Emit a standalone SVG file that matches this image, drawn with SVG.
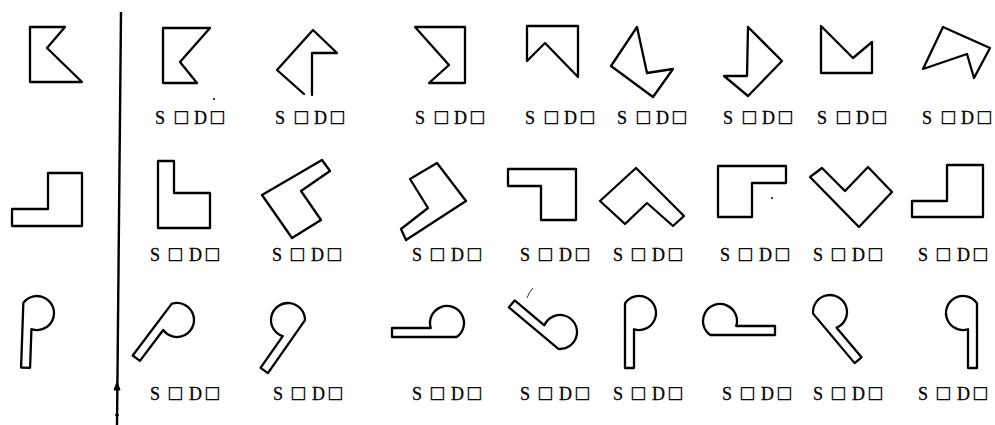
<svg xmlns="http://www.w3.org/2000/svg" width="995" height="425" viewBox="0 0 995 425">
<style>
.f{fill:none;stroke:#000;stroke-width:2.3;stroke-linejoin:round;stroke-linecap:round}
.l{font-family:"Liberation Serif","DejaVu Serif",serif;font-size:18px;fill:#000;stroke:#000;stroke-width:0.3}
.q{font-family:"Liberation Mono","DejaVu Sans Mono",monospace;font-size:21px;stroke-width:0.4}
</style>
<defs>
<path id="P" d="M-14,55 L-14,-9.64 A17,17 0 1 1 -5,16.25 L-5,55 Z"/>
</defs>
<rect width="995" height="425" fill="#fff"/>
<g id="divider" stroke="#000" fill="#000">
<line x1="121" y1="12" x2="117" y2="425" stroke-width="2.4"/>
<polygon points="114,390 117,382 120,390" stroke-width="1"/>
<line x1="115" y1="415" x2="119" y2="415" stroke-width="1.5"/>
</g>
<g id="row1">
<g id="r1-ref"><polygon class="f" points="30,27 65,27 47,48 82,82 30,82"/></g>
<g id="r1-1"><polygon class="f" points="163,28 210,28 180,62 197,83 163,83"/><circle cx="214" cy="99" r="1" fill="#000"/><text class="l" y="124"><tspan x="155">S</tspan><tspan class="q" x="175">□</tspan><tspan x="194">D</tspan><tspan class="q" x="211">□</tspan></text></g>
<g id="r1-2"><polyline class="f" points="304,94 277,70 313,30 337,53 312,53 312,95"/><text class="l" y="124"><tspan x="275">S</tspan><tspan class="q" x="295">□</tspan><tspan x="314">D</tspan><tspan class="q" x="331">□</tspan></text></g>
<g id="r1-3"><polygon class="f" points="415,27 465,27 465,83 429,83 449,65"/><text class="l" y="124"><tspan x="415">S</tspan><tspan class="q" x="435">□</tspan><tspan x="454">D</tspan><tspan class="q" x="471">□</tspan></text></g>
<g id="r1-4"><polygon class="f" points="527,26 578,26 578,77 545,43 527,61"/><text class="l" y="124"><tspan x="525">S</tspan><tspan class="q" x="545">□</tspan><tspan x="564">D</tspan><tspan class="q" x="581">□</tspan></text></g>
<g id="r1-5"><polygon class="f" points="637,27 647,73 673,69 653,97 611,66"/><text class="l" y="124"><tspan x="617">S</tspan><tspan class="q" x="637">□</tspan><tspan x="656">D</tspan><tspan class="q" x="673">□</tspan></text></g>
<g id="r1-6"><polygon class="f" points="748,27 782,61 748,96 724,76 747,76"/><text class="l" y="124"><tspan x="723">S</tspan><tspan class="q" x="743">□</tspan><tspan x="762">D</tspan><tspan class="q" x="779">□</tspan></text></g>
<g id="r1-7"><polygon class="f" points="821,26 853,58 872,42 872,73 821,73"/><text class="l" y="124"><tspan x="817">S</tspan><tspan class="q" x="837">□</tspan><tspan x="856">D</tspan><tspan class="q" x="873">□</tspan></text></g>
<g id="r1-8"><polygon class="f" points="943,27 990,48 974,78 967,54 923,69"/><text class="l" y="124"><tspan x="922">S</tspan><tspan class="q" x="942">□</tspan><tspan x="961">D</tspan><tspan class="q" x="978">□</tspan></text></g>
</g>
<g id="row2">
<g id="r2-ref"><polygon class="f" points="48,173 82,173 82,226 12,226 12,209 48,209"/></g>
<g id="r2-1"><polygon class="f" points="158,161 174,161 174,193 210,193 210,228 158,228"/><text class="l" y="261"><tspan x="150">S</tspan><tspan class="q" x="169">□</tspan><tspan x="189">D</tspan><tspan class="q" x="206">□</tspan></text></g>
<g id="r2-2"><polygon class="f" points="262,195 322,160 330,171 301,191 321,220 292,238"/><text class="l" y="261"><tspan x="272">S</tspan><tspan class="q" x="291">□</tspan><tspan x="311">D</tspan><tspan class="q" x="328">□</tspan></text></g>
<g id="r2-3"><polygon class="f" points="437,163 466,201 406,240 401,229 428,208 410,179"/><text class="l" y="261"><tspan x="412">S</tspan><tspan class="q" x="431">□</tspan><tspan x="451">D</tspan><tspan class="q" x="468">□</tspan></text></g>
<g id="r2-4"><polygon class="f" points="508,169 576,169 576,220 541,220 541,186 508,186"/><text class="l" y="261"><tspan x="520">S</tspan><tspan class="q" x="539">□</tspan><tspan x="559">D</tspan><tspan class="q" x="576">□</tspan></text></g>
<g id="r2-5"><polygon class="f" points="636,168 684,216 673,226 647,203 625,224 600,201"/><text class="l" y="261"><tspan x="613">S</tspan><tspan class="q" x="632">□</tspan><tspan x="652">D</tspan><tspan class="q" x="669">□</tspan></text></g>
<g id="r2-6"><polygon class="f" points="718,166 786,166 786,183 752,183 752,217 718,217"/><circle cx="772" cy="198" r="1" fill="#000"/><text class="l" y="261"><tspan x="720">S</tspan><tspan class="q" x="739">□</tspan><tspan x="759">D</tspan><tspan class="q" x="776">□</tspan></text></g>
<g id="r2-7"><polygon class="f" points="810,177 822,168 845,191 868,167 892,192 859,227"/><text class="l" y="261"><tspan x="813">S</tspan><tspan class="q" x="832">□</tspan><tspan x="852">D</tspan><tspan class="q" x="869">□</tspan></text></g>
<g id="r2-8"><polygon class="f" points="947,165 983,165 983,217 912,217 912,201 947,201"/><text class="l" y="261"><tspan x="918">S</tspan><tspan class="q" x="937">□</tspan><tspan x="957">D</tspan><tspan class="q" x="974">□</tspan></text></g>
</g>
<g id="row3">
<g id="r3-ref"><use href="#P" class="f" transform="translate(37,313) rotate(2)"/></g>
<g id="r3-1"><use href="#P" class="f" transform="translate(177,320) rotate(37)"/><text class="l" y="400"><tspan x="150">S</tspan><tspan class="q" x="169">□</tspan><tspan x="189">D</tspan><tspan class="q" x="206">□</tspan></text></g>
<g id="r3-2"><use href="#P" class="f" transform="translate(288,320) rotate(35) scale(-1,1)"/><text class="l" y="400"><tspan x="273">S</tspan><tspan class="q" x="292">□</tspan><tspan x="312">D</tspan><tspan class="q" x="329">□</tspan></text></g>
<g id="r3-3"><use href="#P" class="f" transform="translate(447,323) rotate(90) scale(-1,1)"/><text class="l" y="400"><tspan x="412">S</tspan><tspan class="q" x="431">□</tspan><tspan x="451">D</tspan><tspan class="q" x="468">□</tspan></text></g>
<g id="r3-4"><use href="#P" class="f" transform="translate(560,332) rotate(130) scale(-1,1)"/><path d="M527,298 Q529,292 533,288" fill="none" stroke="#000" stroke-width="0.8"/><text class="l" y="400"><tspan x="520">S</tspan><tspan class="q" x="539">□</tspan><tspan x="559">D</tspan><tspan class="q" x="576">□</tspan></text></g>
<g id="r3-5"><use href="#P" class="f" transform="translate(639,313)"/><text class="l" y="400"><tspan x="613">S</tspan><tspan class="q" x="632">□</tspan><tspan x="652">D</tspan><tspan class="q" x="669">□</tspan></text></g>
<g id="r3-6"><use href="#P" class="f" transform="translate(720,321) rotate(-90)"/><text class="l" y="400"><tspan x="722">S</tspan><tspan class="q" x="741">□</tspan><tspan x="761">D</tspan><tspan class="q" x="778">□</tspan></text></g>
<g id="r3-7"><use href="#P" class="f" transform="translate(830,312) rotate(-40)"/><text class="l" y="400"><tspan x="813">S</tspan><tspan class="q" x="832">□</tspan><tspan x="852">D</tspan><tspan class="q" x="869">□</tspan></text></g>
<g id="r3-8"><use href="#P" class="f" transform="translate(963,313) scale(-1,1)"/><text class="l" y="400"><tspan x="918">S</tspan><tspan class="q" x="937">□</tspan><tspan x="957">D</tspan><tspan class="q" x="974">□</tspan></text></g>
</g>
</svg>
